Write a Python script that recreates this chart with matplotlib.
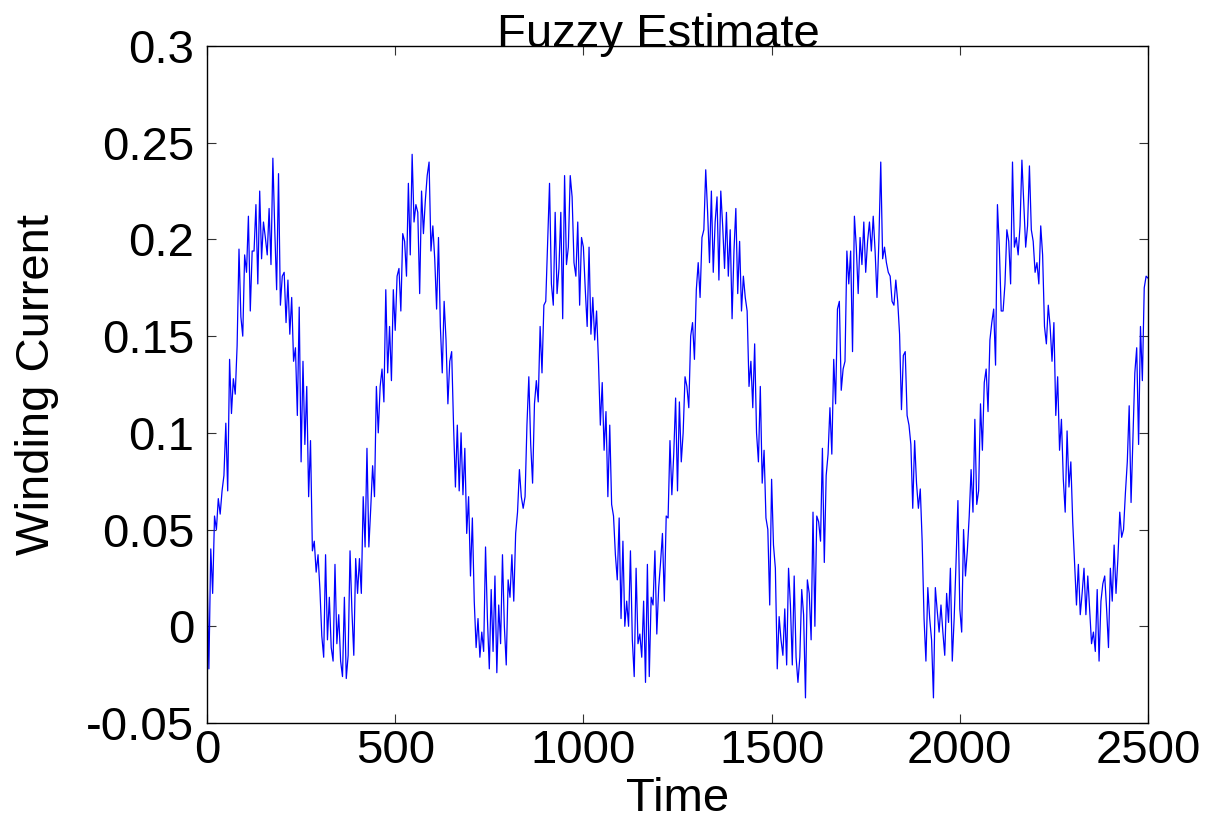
import numpy as np
import matplotlib
matplotlib.use("Agg")
import matplotlib.pyplot as plt

plt.rcParams['font.family'] = ['Liberation Sans', 'DejaVu Sans']
plt.rcParams['axes.unicode_minus'] = False

# Sample times (step 5) and winding current
time_step = 5
time_end = 2500
current = [
    0.030, -0.022, 0.040, 0.017, 0.057, 0.050, 0.066, 0.058, 0.070, 0.078, 0.105, 0.070, 0.138, 0.110, 0.128, 0.120, 0.145, 0.195, 0.160, 0.150,
    0.192, 0.183, 0.212, 0.163, 0.194, 0.194, 0.218, 0.177, 0.225, 0.190, 0.209, 0.201, 0.192, 0.216, 0.187, 0.242, 0.205, 0.174, 0.234, 0.166,
    0.181, 0.183, 0.157, 0.179, 0.151, 0.170, 0.137, 0.144, 0.109, 0.165, 0.085, 0.137, 0.094, 0.124, 0.067, 0.096, 0.039, 0.044, 0.028, 0.037,
    0.019, -0.005, -0.016, 0.037, -0.007, 0.015, -0.011, -0.018, 0.032, -0.009, 0.006, -0.018, -0.026, 0.015, -0.027, -0.015, 0.039, 0.008, -0.015, 0.035,
    0.017, 0.035, 0.017, 0.067, 0.041, 0.092, 0.041, 0.061, 0.083, 0.067, 0.124, 0.100, 0.124, 0.133, 0.116, 0.174, 0.131, 0.155, 0.127, 0.174,
    0.153, 0.181, 0.185, 0.163, 0.203, 0.199, 0.181, 0.229, 0.192, 0.244, 0.209, 0.218, 0.214, 0.172, 0.225, 0.203, 0.220, 0.233, 0.240, 0.194,
    0.207, 0.190, 0.164, 0.201, 0.155, 0.131, 0.168, 0.148, 0.115, 0.137, 0.142, 0.104, 0.072, 0.104, 0.070, 0.100, 0.068, 0.092, 0.048, 0.067,
    0.026, 0.056, 0.013, -0.011, 0.004, -0.016, -0.003, -0.013, 0.041, 0.004, -0.022, 0.019, -0.013, 0.026, -0.024, 0.011, -0.009, 0.037, 0.000, -0.020,
    0.024, 0.015, 0.037, 0.013, 0.048, 0.059, 0.081, 0.067, 0.061, 0.067, 0.104, 0.129, 0.094, 0.074, 0.115, 0.127, 0.116, 0.155, 0.131, 0.166,
    0.168, 0.198, 0.229, 0.177, 0.166, 0.214, 0.172, 0.185, 0.214, 0.159, 0.233, 0.187, 0.196, 0.233, 0.222, 0.188, 0.181, 0.209, 0.166, 0.201,
    0.196, 0.174, 0.155, 0.196, 0.151, 0.170, 0.148, 0.163, 0.137, 0.104, 0.126, 0.091, 0.111, 0.067, 0.104, 0.063, 0.057, 0.037, 0.024, 0.056,
    0.004, 0.044, 0.000, 0.013, 0.000, 0.039, -0.007, -0.026, 0.030, -0.009, -0.004, -0.016, 0.013, -0.029, 0.032, -0.026, 0.015, 0.011, 0.039, -0.004,
    0.020, 0.033, 0.048, 0.013, 0.057, 0.056, 0.096, 0.068, 0.089, 0.118, 0.070, 0.116, 0.085, 0.100, 0.129, 0.124, 0.113, 0.150, 0.157, 0.138,
    0.174, 0.188, 0.170, 0.201, 0.205, 0.236, 0.214, 0.188, 0.225, 0.183, 0.209, 0.222, 0.179, 0.225, 0.207, 0.185, 0.214, 0.181, 0.205, 0.159,
    0.194, 0.216, 0.172, 0.199, 0.163, 0.181, 0.170, 0.163, 0.124, 0.137, 0.113, 0.146, 0.100, 0.085, 0.124, 0.074, 0.091, 0.056, 0.050, 0.011,
    0.076, 0.042, 0.030, -0.022, 0.005, -0.007, -0.015, 0.009, -0.020, 0.030, 0.011, -0.020, 0.026, -0.016, -0.029, -0.016, 0.019, 0.006, -0.037, 0.024,
    0.017, -0.007, 0.059, 0.000, 0.057, 0.054, 0.044, 0.092, 0.033, 0.078, 0.089, 0.113, 0.089, 0.138, 0.115, 0.164, 0.168, 0.122, 0.133, 0.137,
    0.194, 0.177, 0.194, 0.142, 0.212, 0.196, 0.172, 0.201, 0.187, 0.209, 0.183, 0.199, 0.209, 0.194, 0.212, 0.194, 0.170, 0.199, 0.240, 0.190,
    0.196, 0.188, 0.183, 0.181, 0.168, 0.166, 0.179, 0.168, 0.151, 0.112, 0.140, 0.142, 0.109, 0.104, 0.094, 0.061, 0.096, 0.074, 0.061, 0.071,
    0.044, 0.004, -0.018, 0.020, 0.004, -0.007, -0.037, 0.020, 0.008, -0.003, 0.011, -0.003, -0.015, 0.017, 0.002, 0.030, -0.018, 0.004, 0.033, 0.065,
    0.009, -0.003, 0.050, 0.026, 0.039, 0.057, 0.081, 0.059, 0.107, 0.063, 0.070, 0.115, 0.091, 0.126, 0.133, 0.111, 0.148, 0.157, 0.164, 0.135,
    0.218, 0.196, 0.163, 0.163, 0.177, 0.205, 0.199, 0.177, 0.240, 0.196, 0.201, 0.192, 0.207, 0.241, 0.218, 0.196, 0.207, 0.238, 0.205, 0.199,
    0.183, 0.188, 0.177, 0.207, 0.192, 0.155, 0.146, 0.166, 0.155, 0.137, 0.157, 0.109, 0.129, 0.091, 0.107, 0.076, 0.059, 0.101, 0.072, 0.085,
    0.054, 0.033, 0.011, 0.032, 0.006, 0.017, 0.030, 0.006, 0.026, 0.008, -0.009, -0.003, -0.013, 0.019, -0.018, 0.013, 0.022, 0.026, 0.009, -0.011,
    0.030, 0.013, 0.042, 0.017, 0.035, 0.059, 0.046, 0.050, 0.069, 0.085, 0.114, 0.064, 0.098, 0.131, 0.144, 0.094, 0.155, 0.127, 0.175, 0.181,
    0.180,
]
time = np.arange(0, time_end + 1, time_step)[:len(current)]

x_ticks = [0, 500, 1000, 1500, 2000, 2500]
x_tick_labels = ["0", "500", "1000", "1500", "2000", "2500"]
y_ticks = [-0.05, 0, 0.05, 0.1, 0.15, 0.2, 0.25, 0.3]
y_tick_labels = ["-0.05", "0", "0.05", "0.1", "0.15", "0.2", "0.25", "0.3"]

W, H = 1208, 821
fig = plt.figure(figsize=(W / 100, H / 100), dpi=100)
ax = fig.add_axes([207 / W, 1 - 723 / H, (1148 - 207) / W, (723 - 46) / H])

ax.plot(time, current, color=(0, 0, 1), lw=0.9)

ax.set_xlim(0, 2500)
ax.set_ylim(-0.05, 0.3)
ax.set_xticks(x_ticks)
ax.set_xticklabels(x_tick_labels)
ax.set_yticks(y_ticks)
ax.set_yticklabels(y_tick_labels)

fs = 34
ax.tick_params(axis='both', direction='in', length=6.5, width=0.8,
               top=True, right=True, labelsize=fs, color='#333333')
ax.tick_params(axis='x', pad=4)
ax.tick_params(axis='y', pad=9)
for s in ax.spines.values():
    s.set_linewidth(1.0)

ax.set_xlabel("Time", fontsize=fs, labelpad=3)
ax.set_ylabel("Winding Current", fontsize=fs, labelpad=20)
fig.text(658 / W, 1 - 47 / H, "Fuzzy Estimate", fontsize=fs,
         ha='center', va='baseline')

fig.savefig("out.png", dpi=100)
